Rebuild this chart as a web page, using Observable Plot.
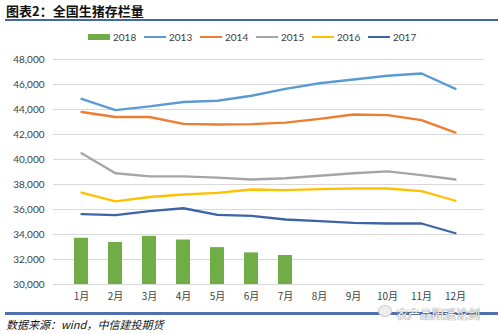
<!DOCTYPE html>
<html>
<head>
<meta charset="utf-8">
<script src="https://cdn.jsdelivr.net/npm/d3@7"></script>
<script src="https://cdn.jsdelivr.net/npm/@observablehq/plot@0.6"></script>
<style>
  html, body { margin: 0; padding: 0; background: #fff; }
  #wrap { position: relative; width: 500px; height: 334px; overflow: hidden; font-family: Lato, "Noto Sans CJK SC", sans-serif; }
  #title { position: absolute; left: 6px; top: 3px; font: bold 13px "Noto Sans CJK SC", sans-serif; color: #111; line-height: 15px; }
  #rule1 { position: absolute; left: 5px; right: 2px; top: 19px; height: 2px; background: #4468a6; }
  #legend { position: absolute; left: 88px; top: 30px; display: flex; font: 10px Lato, "Noto Sans CJK SC", sans-serif; color: #404040; }
  .item { width: 56px; display: flex; align-items: center; height: 14px; }
  .sw { width: 22px; margin-right: 3px; }
  #rule2 { position: absolute; left: 5px; right: 2px; top: 312px; height: 3px; background: #4f6fae; }
  #source { position: absolute; left: 6px; top: 317px; font: italic 11px "Noto Sans CJK SC", sans-serif; color: #111; line-height: 14px; }
  #wm { position: absolute; left: 396px; top: 305px; font: 12px "Noto Sans CJK SC", sans-serif; color: #fff; text-shadow: 0 0 1px #777, 0 0 1px #777; }
  #wmicon { position: absolute; left: 378px; top: 305px; width: 12px; height: 10px; border-radius: 50%; background: #eee; border: 1px solid #ccc; }
  svg { position: absolute; left: 0; top: 0; }
</style>
</head>
<body>
<div id="wrap"></div>
<script>
const months = ["1月","2月","3月","4月","5月","6月","7月","8月","9月","10月","11月","12月"];
const years = ["2018","2013","2014","2015","2016","2017"];
const v2013 = [44850, 43950, 44250, 44600, 44700, 45100, 45650, 46100, 46400, 46700, 46880, 45650];
const v2014 = [43800, 43400, 43400, 42850, 42800, 42830, 42950, 43250, 43600, 43550, 43150, 42150];
const v2015 = [40500, 38900, 38650, 38650, 38550, 38400, 38500, 38700, 38900, 39050, 38750, 38400];
const v2016 = [37350, 36650, 37000, 37200, 37330, 37600, 37550, 37630, 37680, 37680, 37470, 36700];
const v2017 = [35630, 35550, 35870, 36100, 35570, 35490, 35200, 35070, 34930, 34880, 34880, 34100];
const v2018 = [33700, 33360, 33850, 33560, 32950, 32530, 32320];
const yTicks = [30000, 32000, 34000, 36000, 38000, 40000, 42000, 44000, 46000, 48000];
const colors = {"2018": "#70ad47", "2013": "#5b9bd5", "2014": "#ed7d31", "2015": "#a5a5a5", "2016": "#ffc000", "2017": "#3e64a8"};

const lineSeries = {"2013": v2013, "2014": v2014, "2015": v2015, "2016": v2016, "2017": v2017};
const lineData = [];
for (const [yr, vals] of Object.entries(lineSeries)) {
  vals.forEach((v, i) => lineData.push({year: yr, month: months[i], value: v}));
}
const barData = v2018.map((v, i) => ({month: months[i], value: v}));

const wrap = document.getElementById("wrap");

const chart = Plot.plot({
  width: 500,
  height: 334,
  marginTop: 59,
  marginBottom: 50,
  marginLeft: 53,
  marginRight: 16,
  style: {fontFamily: "Lato, 'Noto Sans CJK SC', sans-serif", fontSize: "10px", color: "#404040", background: "transparent"},
  x: {domain: months, padding: 0.58, label: null},
  y: {domain: [30000, 48000], label: null},
  marks: [
    Plot.gridY(yTicks, {stroke: "#d9d9d9", strokeOpacity: 1, strokeWidth: 1}),
    Plot.axisY(yTicks, {tickSize: 0, tickPadding: 9, tickFormat: d3.format(","), fontSize: 10, label: null}),
    Plot.axisX({tickSize: 0, tickPadding: 8, fontSize: 10, fontFamily: "'Noto Sans CJK SC', sans-serif", label: null}),
    Plot.barY(barData, {x: "month", y1: 30000, y2: "value", fill: colors["2018"]}),
    Plot.lineY(lineData, {x: "month", y: "value", z: "year", stroke: d => colors[d.year], strokeWidth: 2.3, curve: "linear"})
  ]
});
wrap.appendChild(chart);

const title = document.createElement("div");
title.id = "title";
title.textContent = "图表2：全国生猪存栏量";
wrap.appendChild(title);
const r1 = document.createElement("div"); r1.id = "rule1"; wrap.appendChild(r1);

const legend = document.createElement("div");
legend.id = "legend";
for (const yr of years) {
  const it = document.createElement("div");
  it.className = "item";
  const sw = document.createElement("span");
  sw.className = "sw";
  sw.style.background = colors[yr];
  sw.style.height = yr === "2018" ? "6px" : "2px";
  it.appendChild(sw);
  const t = document.createElement("span");
  t.textContent = yr;
  it.appendChild(t);
  legend.appendChild(it);
}
wrap.appendChild(legend);

const r2 = document.createElement("div"); r2.id = "rule2"; wrap.appendChild(r2);
const src = document.createElement("div"); src.id = "source"; src.textContent = "数据来源：wind，中信建投期货"; wrap.appendChild(src);
const wmi = document.createElement("div"); wmi.id = "wmicon"; wrap.appendChild(wmi);
const wm = document.createElement("div"); wm.id = "wm"; wm.textContent = "农产品阳遥论剑"; wrap.appendChild(wm);
</script>
</body>
</html>
